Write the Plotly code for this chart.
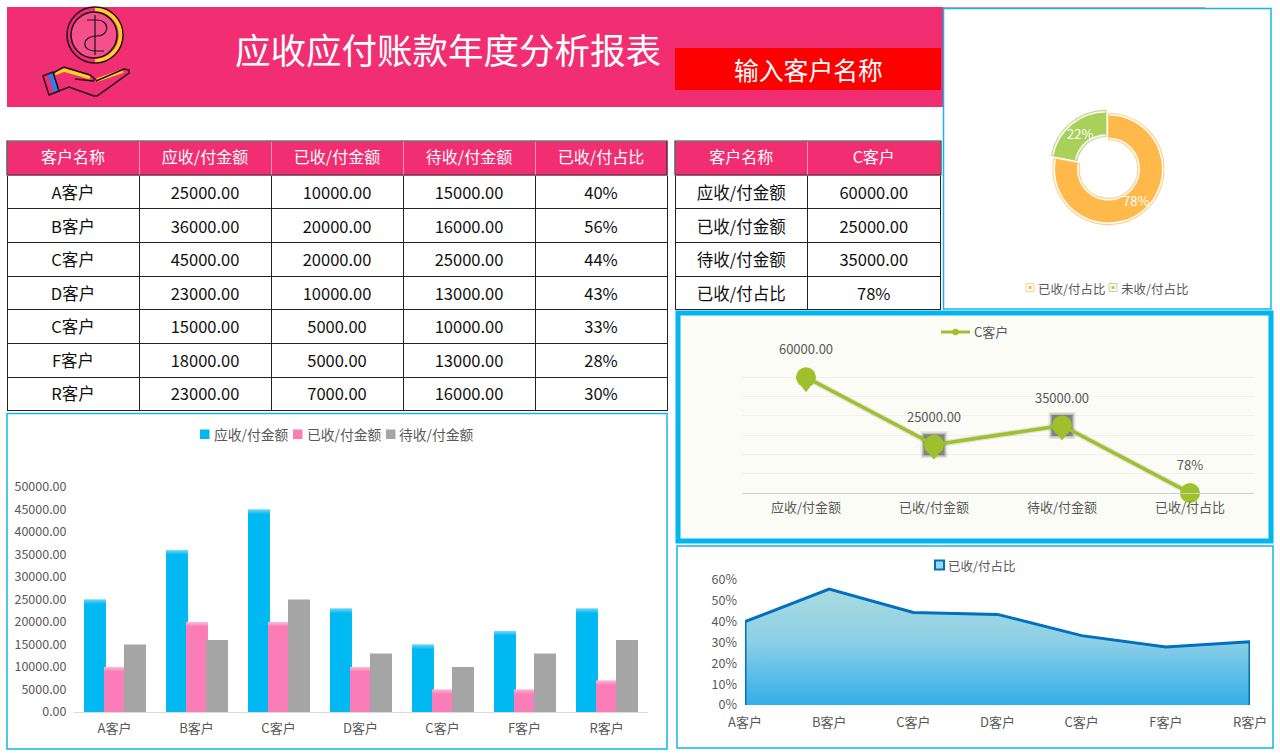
import plotly.graph_objects as go

W = 1280
H = 756
FONT = "Noto Sans CJK SC"
GREY_TEXT = "#595959"
INK = "#1A1020"
YELLOW = "#FFD21E"

customers = ["A客户", "B客户", "C客户", "D客户", "C客户", "F客户", "R客户"]
receivable = [25000, 36000, 45000, 23000, 15000, 18000, 23000]
received = [10000, 20000, 20000, 10000, 5000, 5000, 7000]
pending = [15000, 16000, 25000, 13000, 10000, 13000, 16000]
ratio_labels = ["40%", "56%", "44%", "43%", "33%", "28%", "30%"]
ratios = [0.40, 0.556, 0.444, 0.435, 0.333, 0.278, 0.304]

table_columns = ["客户名称", "应收/付金额", "已收/付金额", "待收/付金额", "已收/付占比"]

detail_names = ["应收/付金额", "已收/付金额", "待收/付金额", "已收/付占比"]
detail_values = [60000, 25000, 35000, 0.78]
detail_labels = ["60000.00", "25000.00", "35000.00", "78%"]

pie_names = ["已收/付占比", "未收/付占比"]
pie_values = [78, 22]


def fx(px):
    return px / W


def fy(py):
    return 1 - py / H


def pt(x, y):
    return f"{fx(x):.5f},{fy(y):.5f}"


def path(points, closed=False):
    s = "M" + " L".join(pt(x, y) for x, y in points)
    return s + (" Z" if closed else "")


def rect(x0, y0, x1, y1, fill="rgba(0,0,0,0)", line=None, width=0, layer="below"):
    return dict(type="rect", xref="paper", yref="paper", x0=fx(x0), x1=fx(x1), y0=fy(y1), y1=fy(y0),
                fillcolor=fill, line=dict(color=line or "rgba(0,0,0,0)", width=width), layer=layer)


def circle(cx, cy, r, fill="rgba(0,0,0,0)", line="#111111", width=1.2):
    return dict(type="circle", xref="paper", yref="paper", x0=fx(cx - r), x1=fx(cx + r), y0=fy(cy + r), y1=fy(cy - r),
                fillcolor=fill, line=dict(color=line, width=width), layer="above")


def stroke(d, color="#111111", width=1.5, fill="rgba(0,0,0,0)"):
    return dict(type="path", xref="paper", yref="paper", path=d, fillcolor=fill,
                line=dict(color=color, width=width), layer="above")


def label(text, x, y, size=13, color=GREY_TEXT, anchor="left"):
    return dict(text=text, x=fx(x), y=fy(y), xref="paper", yref="paper", showarrow=False,
                xanchor=anchor, yanchor="middle", font=dict(family=FONT, size=size, color=color))


def icon_shapes():
    return [
        circle(95, 35, 28, line=INK, width=1.5),
        stroke(f"M{pt(95, 9.5)} C{pt(109, 9.5)} {pt(120.5, 21)} {pt(120.5, 35)} "
               f"C{pt(120.5, 49)} {pt(109, 60.5)} {pt(95, 60.5)}", YELLOW, 3.5),
        circle(94, 35, 23, fill="#F5508A", line=INK, width=1.5),
        stroke(path([(95, 15), (95, 55)]), INK, 1.2),
        stroke(f"M{pt(87, 20)} L{pt(97, 20)} C{pt(110, 20)} {pt(110, 36)} {pt(97, 36)} "
               f"C{pt(81, 36)} {pt(81, 51)} {pt(95, 51)} L{pt(104, 51)}", INK, 1.2),
        # hand
        stroke(path([(55, 73.5), (64, 70), (90, 77.5)]), YELLOW, 3.5),
        stroke(path([(97, 80), (123, 71)]), YELLOW, 3.5),
        stroke(path([(53, 73), (64, 67), (90, 75), (95, 79), (93, 81), (75, 79)]), INK),
        stroke(path([(96, 81), (124, 69), (129, 70), (129, 73), (97, 96), (94, 96), (69, 87), (59, 91)]), INK),
        stroke(path([(48, 74), (52, 72.5), (58, 91), (54, 93)], closed=True), "rgba(0,0,0,0)", 0, fill="#1E88F0"),
        stroke(path([(43, 76), (53, 72), (59, 91), (49, 95)], closed=True), INK),
    ]


def add_table(fig, x0, x1, widths, columns, rows, bottom):
    # the grid and the text are two tables: go.Table has no vertical alignment,
    # and the text sits a few pixels lower in the original
    blank_rows = [[""] * len(col) for col in rows]
    fig.add_trace(go.Table(
        domain=dict(x=[fx(x0), fx(x1)], y=[fy(bottom), fy(141)]),
        columnwidth=widths,
        header=dict(values=[""] * len(columns), fill_color="#F22E72", line_color="#F595B8", height=34,
                    font=dict(family=FONT, size=16, color="#FFFFFF")),
        cells=dict(values=blank_rows, fill_color="#FFFFFF", line_color="#222222", height=33.7,
                   font=dict(family=FONT, size=16.5, color="#111111")),
    ))
    fig.add_trace(go.Table(
        domain=dict(x=[fx(x0), fx(x1)], y=[fy(bottom + 8), fy(143)]),
        columnwidth=widths,
        header=dict(values=columns, fill_color="rgba(0,0,0,0)", line_color="rgba(0,0,0,0)", height=36,
                    font=dict(family=FONT, size=16, color="#FFFFFF"), align="center"),
        cells=dict(values=rows, fill_color="rgba(0,0,0,0)", line_color="rgba(0,0,0,0)", height=33.5,
                   font=dict(family=FONT, size=16.5, color="#111111"), align="center"),
    ))


fig = go.Figure()

add_table(fig, 7, 667, [132] * 5, table_columns,
          [customers,
           [f"{v:.2f}" for v in receivable],
           [f"{v:.2f}" for v in received],
           [f"{v:.2f}" for v in pending],
           ratio_labels], 413)
add_table(fig, 675, 941, [133, 133], ["客户名称", "C客户"], [detail_names, detail_labels], 311)

# grouped bars, drawn overlaid so that neighbours can overlap a little like the original
bar_series = [
    ("应收/付金额", receivable, "#00B9F2", -0.372),
    ("已收/付金额", received, "#FB7DB8", -0.128),
    ("待收/付金额", pending, "#A5A5A5", 0.116),
]
bar_x = list(range(len(customers)))
for name, values, color, offset in bar_series:
    fig.add_trace(go.Bar(x=bar_x, y=values, name=name, marker=dict(color=color, line_width=0),
                         width=0.268, offset=offset, xaxis="x", yaxis="y", showlegend=False))
    if color == "#A5A5A5":
        continue
    # pale band at the top of the bar
    for i, alpha in enumerate([0.42, 0.32, 0.22, 0.12]):
        fig.add_trace(go.Bar(x=bar_x, y=[225] * len(values), base=[v - 225 * (i + 1) for v in values],
                             marker=dict(color=f"rgba(255,255,255,{alpha})", line_width=0),
                             width=0.268, offset=offset, xaxis="x", yaxis="y",
                             showlegend=False, hoverinfo="skip"))

# C customer line
line_x = list(range(len(detail_names)))
fig.add_trace(go.Scatter(x=line_x, y=detail_values, mode="lines", line=dict(color="rgba(0,0,0,0.10)", width=6),
                         xaxis="x2", yaxis="y2", showlegend=False, hoverinfo="skip", cliponaxis=False))
for size, alpha in [(27, 0.12), (24, 0.22), (21, 0.5)]:
    fig.add_trace(go.Scatter(x=line_x[1:3], y=detail_values[1:3], mode="markers",
                             marker=dict(symbol="square", size=size, color=f"rgba(70,70,70,{alpha})"),
                             xaxis="x2", yaxis="y2", showlegend=False, hoverinfo="skip", cliponaxis=False))
fig.add_trace(go.Scatter(x=line_x, y=detail_values, mode="lines+markers", name="C客户",
                         line=dict(color="#9DC02B", width=3.5),
                         marker=dict(symbol="circle", size=20, color="#9DC02B"),
                         xaxis="x2", yaxis="y2", showlegend=False, cliponaxis=False))
# tip of the pin markers, a little under each point
fig.add_trace(go.Scatter(x=line_x, y=[v - 4150 for v in detail_values], mode="markers",
                         marker=dict(symbol="triangle-down", size=14, color="#9DC02B"),
                         xaxis="x2", yaxis="y2", showlegend=False, hoverinfo="skip", cliponaxis=False))
fig.add_trace(go.Scatter(x=line_x, y=detail_values, mode="markers+text", text=detail_labels,
                         textposition="top center", textfont=dict(family=FONT, size=13, color=GREY_TEXT),
                         marker=dict(size=30, color="rgba(0,0,0,0)"),
                         xaxis="x2", yaxis="y2", showlegend=False, hoverinfo="skip", cliponaxis=False))

# ratio area
area_x = [0] + list(range(len(customers))) + [len(customers) - 1]
area_y = [0] + ratios + [0]
fig.add_trace(go.Scatter(x=area_x, y=area_y, mode="lines", fill="toself",
                         fillgradient=dict(type="vertical", start=0.6, stop=0,
                                           colorscale=[[0, "#AFDDDD"], [0.5, "#8BCFE6"], [1, "#34ADE8"]]),
                         line=dict(color="#0070C0", width=3),
                         xaxis="x3", yaxis="y3", showlegend=False, cliponaxis=False))

# doughnut: an outlined pie behind gives the pale rim around each slice
fig.add_trace(go.Pie(labels=pie_names, values=pie_values, sort=False, direction="clockwise", rotation=0,
                     domain=dict(x=[fx(1108.5 - 59.5), fx(1108.5 + 59.5)], y=[fy(169 + 59.5), fy(169 - 59.5)]),
                     hole=0.53, pull=[0, 0.072],
                     marker=dict(colors=["#FFFFFF", "#FFFFFF"], line=dict(color=["#FFD28A", "#BBD98A"], width=1.2)),
                     textinfo="none", showlegend=False, hoverinfo="skip"))
fig.add_trace(go.Pie(labels=pie_names, values=pie_values, sort=False, direction="clockwise", rotation=0,
                     domain=dict(x=[fx(1108.5 - 57.5), fx(1108.5 + 57.5)], y=[fy(169 + 57.5), fy(169 - 57.5)]),
                     hole=0.59, pull=[0, 0.075],
                     marker=dict(colors=["#FFB94A", "#A9D15A"], line_width=0),
                     textinfo="none", showlegend=False))

axis_font = dict(family=FONT, size=13, color=GREY_TEXT)
y_axis_font = dict(family=FONT, size=12.5, color=GREY_TEXT)

shapes = [
    rect(7, 7, 1205, 8, fill="#F48FB6"),
    rect(7, 7, 943, 107, fill="#F22E72"),
    rect(675, 48, 941, 90, fill="#FF0000"),
    rect(943.5, 8.5, 1271, 309, fill="#FFFFFF", line="#12B5F0", width=1.5),
    rect(678, 313, 1271, 541, fill="#FCFCF7", line="#00B5F2", width=5),
    rect(677, 546, 1273, 748, fill="#FFFFFF", line="#12B5F0", width=1.5),
    rect(7, 413.5, 667, 749, fill="#FFFFFF", line="#12B5F0", width=1.5),
    # dark outline of the table headers
    rect(7, 141, 667, 175, line="#333333", width=1.2, layer="above"),
    rect(675, 141, 941, 175, line="#333333", width=1.2, layer="above"),
] + icon_shapes()

annotations = [
    label("应收应付账款年度分析报表", 448, 49, size=35.5, color="#FFFFFF", anchor="center"),
    label("输入客户名称", 808, 69, size=24.8, color="#FFFFFF", anchor="center"),
    label(f"{pie_values[0]}%", 1136, 201, size=13, color="#FFFFFF", anchor="center"),
    label(f"{pie_values[1]}%", 1080, 134, size=13, color="#FFFFFF", anchor="center"),
]

# legends sit tight against their text in the original, so they are laid out by hand
for name, color, x_swatch, x_text in [(bar_series[0][0], bar_series[0][2], 200, 212),
                                      (bar_series[1][0], bar_series[1][2], 293, 305),
                                      (bar_series[2][0], bar_series[2][2], 386, 397)]:
    shapes.append(rect(x_swatch, 429.5, x_swatch + 9.5, 439, fill=color, layer="above"))
    annotations.append(label(name, x_text, 434, size=13.8))
for name, color, rim, x_swatch, x_text in [(pie_names[0], "#FFB94A", "#FFD28A", 1026, 1036),
                                           (pie_names[1], "#A9D15A", "#BBD98A", 1109, 1119)]:
    shapes.append(rect(x_swatch, 283.5, x_swatch + 8, 291.5, fill="#FFFFFF", line=rim, width=1, layer="above"))
    shapes.append(rect(x_swatch + 2.5, 286, x_swatch + 5.5, 289, fill=color, layer="above"))
    annotations.append(label(name, x_text, 288, size=12.5))
shapes.append(stroke(path([(941, 332), (970, 332)]), "#9DC02B", 3))
shapes.append(circle(955.5, 332, 3, fill="#9DC02B", line="#9DC02B", width=0.5))
annotations.append(label("C客户", 972, 332))
shapes.append(rect(935, 560.5, 944, 569.5, fill="#9AD6E8", line="#0070C0", width=2, layer="above"))
annotations.append(label("已收/付占比", 946, 565, size=12.5))

fig.update_layout(
    width=W,
    height=H,
    autosize=False,
    margin=dict(l=0, r=0, t=0, b=0, autoexpand=False),
    paper_bgcolor="#FFFFFF",
    plot_bgcolor="rgba(0,0,0,0)",
    font=dict(family=FONT),
    barmode="overlay",
    showlegend=False,
    shapes=shapes,
    annotations=annotations,
    xaxis=dict(domain=[fx(73.5), fx(647.5)], range=[-0.5, 6.5], tickmode="array", tickvals=bar_x,
               ticktext=customers, tickfont=axis_font, showgrid=False, zeroline=False, showline=True,
               linecolor="#D9D9D9", linewidth=1, ticks="", ticklabelstandoff=4, anchor="y"),
    yaxis=dict(domain=[fy(712), fy(487)], range=[0, 50000], tickmode="array",
               tickvals=list(range(0, 50001, 5000)), ticktext=[f"{v:.2f}" for v in range(0, 50001, 5000)],
               tickfont=y_axis_font, showgrid=False, zeroline=False, ticks="", ticklabelstandoff=6, anchor="x"),
    xaxis2=dict(domain=[fx(742), fx(1254)], range=[-0.5, 3.5], tickmode="array", tickvals=line_x,
                ticktext=detail_names, tickfont=axis_font, showgrid=False, zeroline=False, showline=True,
                linecolor="#D0D0D0", linewidth=1, ticks="", ticklabelstandoff=2, anchor="y2"),
    yaxis2=dict(domain=[fy(493), fy(358)], range=[0, 70000], dtick=10000, showticklabels=False,
                gridcolor="#F1F1EC", gridwidth=1, zeroline=False, ticks="", anchor="x2"),
    xaxis3=dict(domain=[fx(745), fx(1250)], range=[0, 6], tickmode="array", tickvals=list(range(len(customers))),
                ticktext=customers, tickfont=axis_font, showgrid=False, zeroline=False, ticks="",
                ticklabelstandoff=8, anchor="y3"),
    yaxis3=dict(domain=[fy(705), fy(580)], range=[0, 0.6], tickmode="array",
                tickvals=[0, 0.1, 0.2, 0.3, 0.4, 0.5, 0.6], ticktext=["0%", "10%", "20%", "30%", "40%", "50%", "60%"],
                tickfont=y_axis_font, showgrid=False, zeroline=False, ticks="", ticklabelstandoff=7, anchor="x3"),
)

fig.write_html("out.html", config=dict(displayModeBar=False),
               post_script="document.body.style.margin='0';")
